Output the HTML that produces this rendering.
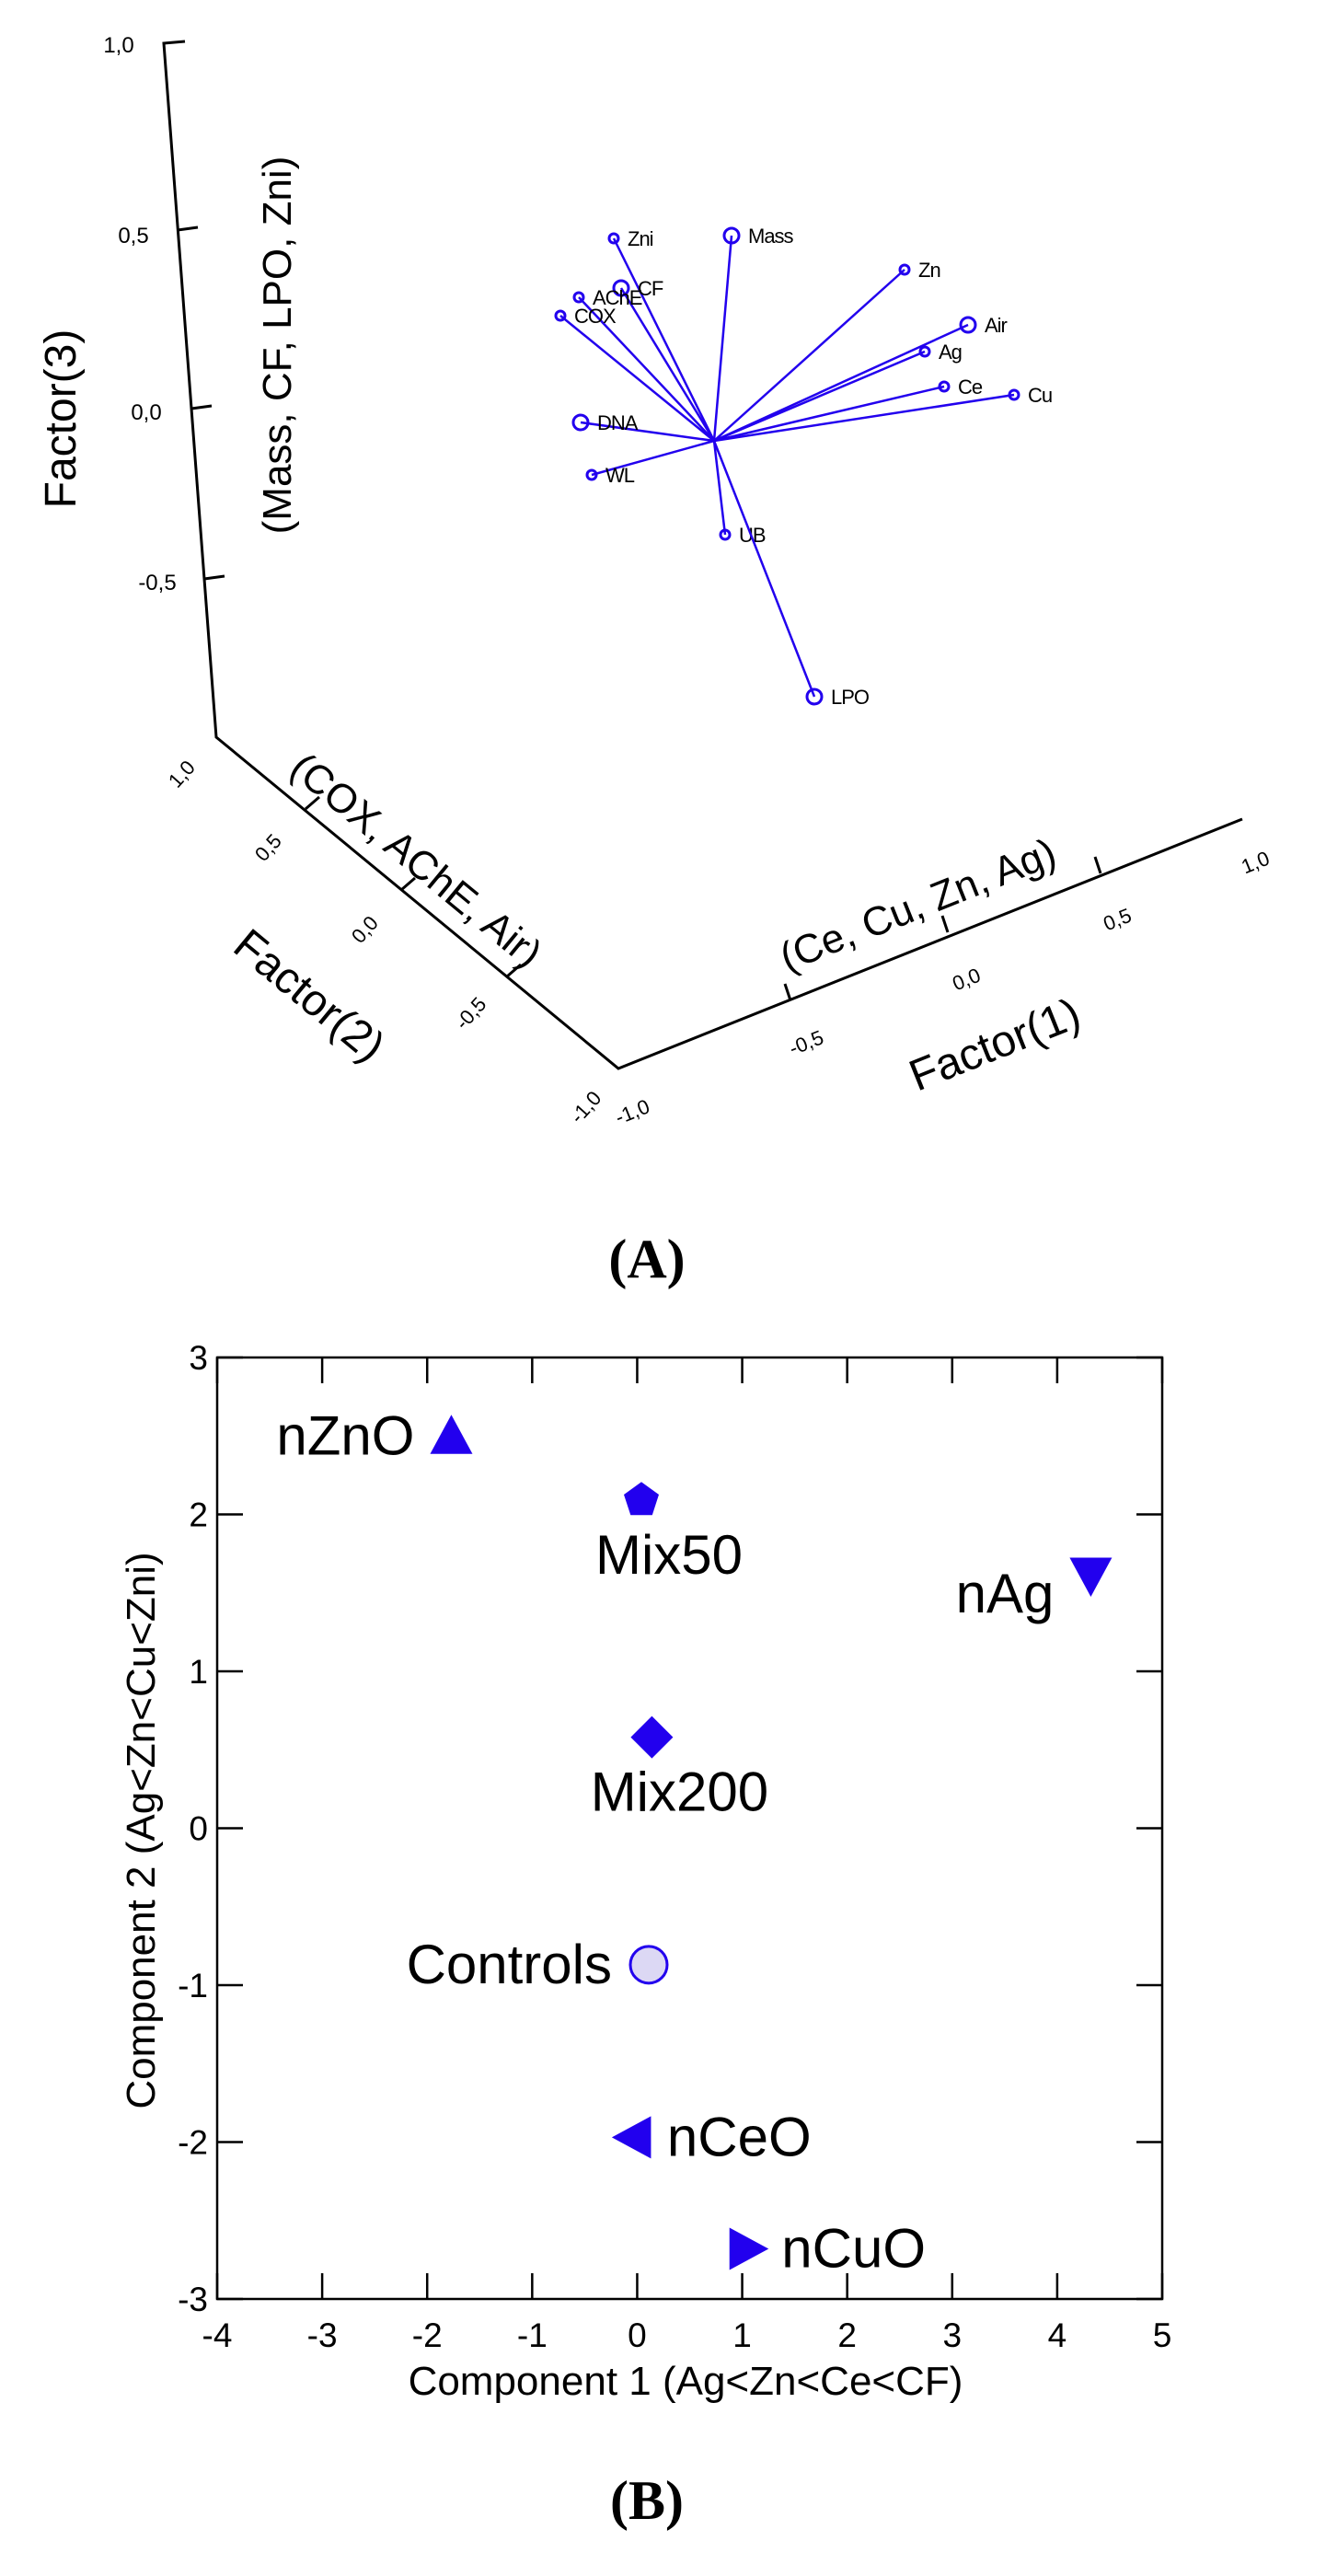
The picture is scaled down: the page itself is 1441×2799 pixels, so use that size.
<!DOCTYPE html>
<html><head><meta charset="utf-8"><style>
html,body{margin:0;padding:0;background:#fff}
svg{display:block}
text{font-family:"Liberation Sans",Arial,sans-serif;fill:#000}
</style></head><body>
<svg id="fig" width="1441" height="2799" viewBox="0 0 1441 2799" xmlns="http://www.w3.org/2000/svg">
<g id="panelA">
  <g stroke="#000" stroke-width="3" fill="none">
    <polyline points="201,45 178,47 235,801 672,1161 1350,890"/>
    <line x1="193" y1="250" x2="215" y2="247"/>
    <line x1="208" y1="444" x2="230" y2="441"/>
    <line x1="222" y1="629" x2="244" y2="626"/>
    <line x1="332" y1="879" x2="347" y2="866"/>
    <line x1="436" y1="967" x2="451" y2="954"/>
    <line x1="551" y1="1061" x2="566" y2="1048"/>
    <line x1="859" y1="1087" x2="853" y2="1069"/>
    <line x1="1030" y1="1013" x2="1024" y2="995"/>
    <line x1="1196" y1="949" x2="1190" y2="931"/>
  </g>
  <g font-size="24" text-anchor="middle">
    <text x="129" y="57">1,0</text>
    <text x="145" y="264">0,5</text>
    <text x="159" y="456">0,0</text>
    <text x="171" y="641">-0,5</text>
  </g>
  <g font-size="22" text-anchor="middle">
    <text transform="translate(203,846) rotate(-48)">1,0</text>
    <text transform="translate(297,926) rotate(-48)">0,5</text>
    <text transform="translate(402,1015) rotate(-48)">0,0</text>
    <text transform="translate(517,1106) rotate(-48)">-0,5</text>
    <text transform="translate(642,1208) rotate(-48)">-1,0</text>
  </g>
  <g font-size="22" text-anchor="middle">
    <text transform="translate(690,1215) rotate(-22)">-1,0</text>
    <text transform="translate(879,1140) rotate(-22)">-0,5</text>
    <text transform="translate(1053,1071) rotate(-22)">0,0</text>
    <text transform="translate(1217,1006) rotate(-22)">0,5</text>
    <text transform="translate(1367,944) rotate(-22)">1,0</text>
  </g>
  <text transform="translate(82,455) rotate(-90)" font-size="48" text-anchor="middle">Factor(3)</text>
  <text transform="translate(316,375) rotate(-90)" font-size="44" text-anchor="middle">(Mass, CF, LPO, Zni)</text>
  <text transform="translate(443,946) rotate(39.5)" font-size="44" text-anchor="middle">(COX, AChE, Air)</text>
  <text transform="translate(326,1094) rotate(39.5)" font-size="48" text-anchor="middle">Factor(2)</text>
  <text transform="translate(1003,997) rotate(-21.8)" font-size="44" text-anchor="middle">(Ce, Cu, Zn, Ag)</text>
  <text transform="translate(1087,1150) rotate(-21.8)" font-size="48" text-anchor="middle">Factor(1)</text>
  <g id="vectors"></g>
  <text x="703" y="1388" font-weight="bold" font-size="60" text-anchor="middle" style="font-family:'Liberation Serif',serif">(A)</text>
</g>
<g id="panelB">
  <rect x="236" y="1475" width="1027" height="1023" fill="none" stroke="#000" stroke-width="2.5"/>
  <g id="bAxes"></g>
  <g id="bPoints"></g>
  <text x="745" y="2602" font-size="44" text-anchor="middle">Component 1 (Ag&lt;Zn&lt;Ce&lt;CF)</text>
  <text transform="translate(168,1989) rotate(-90)" font-size="44" text-anchor="middle">Component 2 (Ag&lt;Zn&lt;Cu&lt;Zni)</text>
  <text x="703" y="2737" font-weight="bold" font-size="60" text-anchor="middle" style="font-family:'Liberation Serif',serif">(B)</text>
</g>
</svg>
<script>
// Panel A loading vectors (screen-projected endpoints)
const vecNames = ["Zni","Mass","Zn","Air","Ag","Ce","Cu","CF","AChE","COX","DNA","WL","UB","LPO"];
const vecX = [667,795,983,1052,1005,1026,1102,675,629,609,631,643,788,885];
const vecY = [259,256,293,353,382,420,429,313,323,343,459,516,581,757];
const vecBig = [0,1,0,1,0,0,0,1,0,0,1,0,0,1];
const originXY = [776,479];

const NS = "http://www.w3.org/2000/svg";
const vg = document.getElementById("vectors");
for (let i = 0; i < vecNames.length; i++) {
  const l = document.createElementNS(NS, "line");
  l.setAttribute("x1", originXY[0]); l.setAttribute("y1", originXY[1]);
  l.setAttribute("x2", vecX[i]); l.setAttribute("y2", vecY[i]);
  l.setAttribute("stroke", "#2200ee"); l.setAttribute("stroke-width", "2.5");
  
  
  vg.appendChild(l);
  const c = document.createElementNS(NS, "circle");
  c.setAttribute("cx", vecX[i]); c.setAttribute("cy", vecY[i]);
  c.setAttribute("r", vecBig[i] ? 8 : 5);
  c.setAttribute("fill", "none"); c.setAttribute("stroke", "#2200ee"); c.setAttribute("stroke-width", "3");
  
  
  vg.appendChild(c);
  const t = document.createElementNS(NS, "text");
  t.setAttribute("x", vecX[i] + (vecBig[i] ? 18 : 15)); t.setAttribute("y", vecY[i] + 8);
  t.setAttribute("font-size", "22"); t.setAttribute("letter-spacing", "-1");
  t.textContent = vecNames[i];
  
  
  vg.appendChild(t);
}

// Panel B scores
const groups = ["nZnO","Mix50","nAg","Mix200","Controls","nCeO","nCuO"];
const comp1 = [-1.77,0.04,4.32,0.14,0.11,-0.04,1.05];
const comp2 = [2.5,2.09,1.61,0.58,-0.87,-1.97,-2.68];
const shapes = ["up","pent","down","diamond","circle","left","right"];
const labelPos = ["left","below","left","below","left","right","right"];
const xTicks = [-4,-3,-2,-1,0,1,2,3,4,5];
const yTicks = [-3,-2,-1,0,1,2,3];

const X0 = 236, X1 = 1263, Y0 = 2498, Y1 = 1475;
function sx(v){ return X0 + (v + 4) / 9 * (X1 - X0); }
function sy(v){ return Y0 - (v + 3) / 6 * (Y0 - Y1); }

const ax = document.getElementById("bAxes");
function mk(tag, attrs){ const e = document.createElementNS(NS, tag); for (const k in attrs) e.setAttribute(k, attrs[k]); return e; }
xTicks.forEach(v => {
  const x = sx(v);
  const a = mk("line",{x1:x,y1:Y0,x2:x,y2:Y0-28,stroke:"#000","stroke-width":2.5});
  
  
  ax.appendChild(a);
  const b = mk("line",{x1:x,y1:Y1,x2:x,y2:Y1+28,stroke:"#000","stroke-width":2.5});
  
  
  ax.appendChild(b);
  const t = mk("text",{x:x,y:Y0+52,"font-size":37,"text-anchor":"middle"});
  t.textContent = v;
  
  
  ax.appendChild(t);
});
yTicks.forEach(v => {
  const y = sy(v);
  const a = mk("line",{x1:X0,y1:y,x2:X0+28,y2:y,stroke:"#000","stroke-width":2.5});
  
  
  ax.appendChild(a);
  const b = mk("line",{x1:X1,y1:y,x2:X1-28,y2:y,stroke:"#000","stroke-width":2.5});
  
  
  ax.appendChild(b);
  const t = mk("text",{x:X0-10,y:y+13,"font-size":37,"text-anchor":"end"});
  t.textContent = v;
  
  
  ax.appendChild(t);
});

const pg = document.getElementById("bPoints");
const C = "#2200ee";
for (let i = 0; i < groups.length; i++) {
  const x = sx(comp1[i]), y = sy(comp2[i]);
  let m;
  const s = 23;
  if (shapes[i] === "up") m = mk("polygon",{points:`${x},${y-s} ${x-s},${y+s*0.85} ${x+s},${y+s*0.85}`,fill:C});
  else if (shapes[i] === "down") m = mk("polygon",{points:`${x-s},${y-s*0.85} ${x+s},${y-s*0.85} ${x},${y+s}`,fill:C});
  else if (shapes[i] === "left") m = mk("polygon",{points:`${x-s},${y} ${x+s*0.85},${y-s} ${x+s*0.85},${y+s}`,fill:C});
  else if (shapes[i] === "right") m = mk("polygon",{points:`${x+s},${y} ${x-s*0.85},${y-s} ${x-s*0.85},${y+s}`,fill:C});
  else if (shapes[i] === "diamond") m = mk("polygon",{points:`${x},${y-s} ${x+s},${y} ${x},${y+s} ${x-s},${y}`,fill:C});
  else if (shapes[i] === "pent") {
    let p = [];
    for (let k = 0; k < 5; k++) { const a = -Math.PI/2 + k*2*Math.PI/5; p.push((x+20*Math.cos(a)).toFixed(1)+","+(y+20*Math.sin(a)).toFixed(1)); }
    m = mk("polygon",{points:p.join(" "),fill:C});
  } else m = mk("circle",{cx:x,cy:y,r:20,fill:"#dcd8f4",stroke:C,"stroke-width":3});
  
  
  pg.appendChild(m);
  let tx, ty, anchor;
  if (labelPos[i] === "left") { tx = x - 40; ty = y + 20; anchor = "end"; }
  else if (labelPos[i] === "right") { tx = x + 37; ty = y + 20; anchor = "start"; }
  else { tx = x + 30; ty = y + 80; anchor = "middle"; }
  if (groups[i] === "nAg") ty = y + 40;
  const t = mk("text",{x:tx,y:ty,"font-size":60,"text-anchor":anchor});
  t.textContent = groups[i];
  
  
  pg.appendChild(t);
}
</script>
</body></html>
